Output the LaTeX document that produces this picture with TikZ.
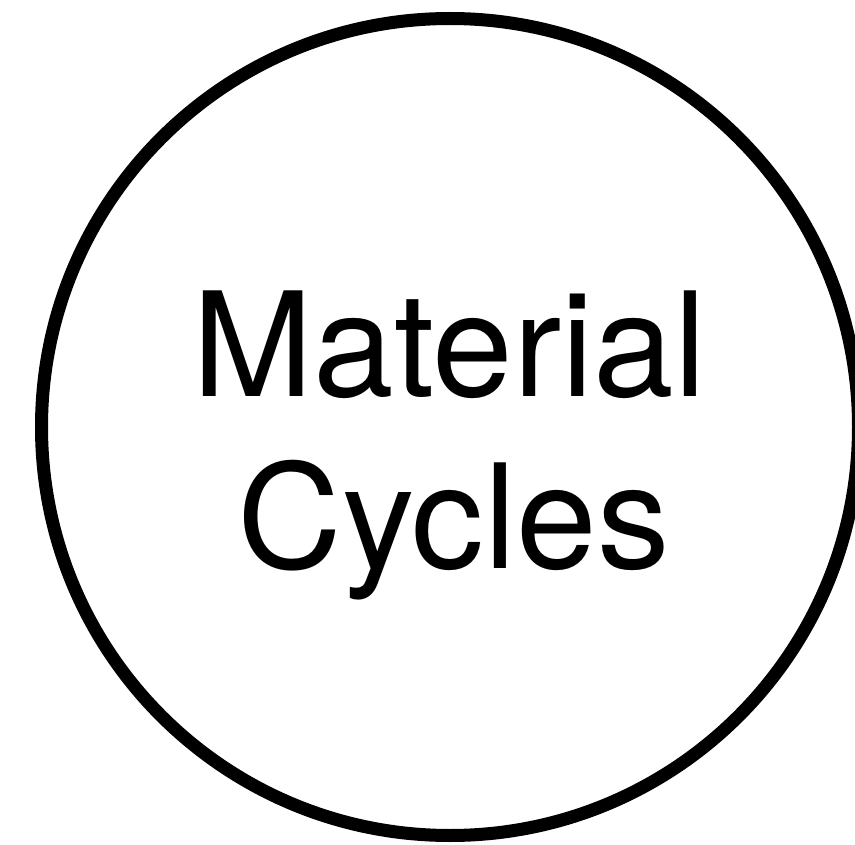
\documentclass[tikz,border=0pt]{standalone}
\usepackage{fontspec}
\setmainfont{TeX Gyre Heros}
\begin{document}
\begin{tikzpicture}[x=1pt,y=-1pt,
  ring/.style={circle,draw=black,line width=13pt,minimum size=817pt,inner sep=0pt},
  label/.style={anchor=base,inner sep=0pt,font=\fontsize{145}{172}\selectfont}]
\useasboundingbox (0,0) rectangle (855,845);
\node[ring] (cyc) at (450,427) {};
\node[label] (l1) at (449.5,396) {Material};
\node[label] (l2) at (453.5,568) {Cycles};
\end{tikzpicture}
\end{document}
